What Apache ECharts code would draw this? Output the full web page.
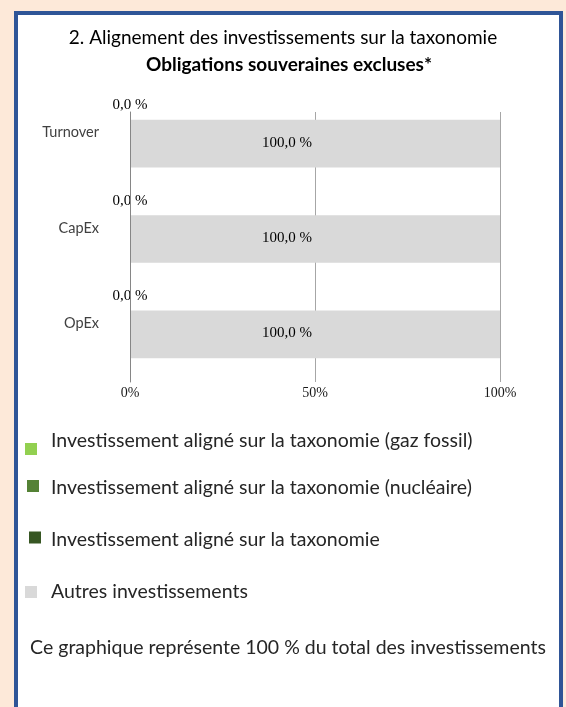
<!DOCTYPE html>
<html>
<head>
<meta charset="utf-8">
<script src="https://cdn.jsdelivr.net/npm/echarts@6/dist/echarts.min.js"></script>
<style>
  html, body { margin: 0; padding: 0; background: #FDE9D9; }
  .frame {
    position: absolute; left: 14px; top: 11px; width: 541px; height: 720px;
    border: 4px solid #2F5597; background: #fff;
  }
  #chart { position: absolute; left: 0; top: 0; width: 566px; height: 707px; }
</style>
</head>
<body>
<div class="frame"></div>
<div id="chart"></div>
<script>
const categories = ['Turnover', 'CapEx', 'OpEx'];
const gazFossil = [0, 0, 0];
const nucleaire = [0, 0, 0];
const aligne = [0, 0, 0];
const autres = [100, 100, 100];
const xTicks = [0, 50, 100];

const seriesNames = [
  'Investissement aligné sur la taxonomie (gaz fossil)',
  'Investissement aligné sur la taxonomie (nucléaire)',
  'Investissement aligné sur la taxonomie',
  'Autres investissements'
];
const colors = ['#92D050', '#548235', '#375623', '#D9D9D9'];

const sans = 'Lato, "Open Sans", sans-serif';
const serif = '"Liberation Serif", "DejaVu Serif", serif';

const pct = (v) => v.toFixed(1).replace('.', ',') + ' %';

const chart = echarts.init(document.getElementById('chart'));

// one legend per row so each square sits where it does in the picture
const legendRow = (name, left, top, pad) => ({
  data: [name],
  left: left,
  top: top,
  padding: 0,
  orient: 'vertical',
  icon: 'rect',
  itemWidth: 12,
  itemHeight: 12,
  selectedMode: false,
  formatter: '{t|{name}}',
  textStyle: {
    rich: {
      t: { fontFamily: sans, fontSize: 19.5, lineHeight: 20, color: '#262626', padding: pad }
    }
  }
});

const option = {
  animation: false,
  title: [
    {
      text: '2. Alignement des investissements sur la taxonomie',
      left: 283, top: 28, textAlign: 'center', padding: 0,
      textStyle: { fontFamily: sans, fontSize: 19, fontWeight: 'normal', color: '#000' }
    },
    {
      text: 'Obligations souveraines excluses*',
      left: 289, top: 55, textAlign: 'center', padding: 0,
      textStyle: { fontFamily: sans, fontSize: 19, fontWeight: 'bold', color: '#000' }
    },
    {
      text: 'Ce graphique représente 100 % du total des investissements',
      left: 288, top: 638, textAlign: 'center', padding: 0,
      textStyle: { fontFamily: sans, fontSize: 19.5, fontWeight: 'normal', color: '#262626' }
    }
  ],
  legend: [
    legendRow(seriesNames[0], 25, 431, [0, 0, 16, 9]),
    legendRow(seriesNames[1], 27, 474, [4, 0, 0, 7]),
    legendRow(seriesNames[2], 29, 525, [5, 0, 0, 5]),
    legendRow(seriesNames[3], 25, 582, [0, 0, 0, 9])
  ],
  grid: [
    { left: 130, right: 66, top: 96, bottom: 325 },
    { left: 130, right: 66, top: 112, bottom: 325 }
  ],
  xAxis: [
    { type: 'value', gridIndex: 0, min: 0, max: 100, show: false },
    {
      type: 'value', gridIndex: 1, min: xTicks[0], max: xTicks[xTicks.length - 1], interval: 50,
      axisLine: { show: false },
      axisTick: { show: false },
      splitLine: { show: true, lineStyle: { color: '#A6A6A6', width: 1 } },
      axisLabel: {
        formatter: '{value}%', margin: 4,
        fontFamily: serif, fontSize: 14, color: '#1a1a1a'
      }
    }
  ],
  yAxis: [
    {
      type: 'category', gridIndex: 0, data: categories, inverse: true,
      axisLine: { show: false },
      axisTick: { show: false },
      axisLabel: {
        margin: 31, fontFamily: sans, fontSize: 14.5, color: '#404040',
        verticalAlign: 'bottom', lineHeight: 22
      }
    },
    {
      // only its line: the darker 0% rule, starting below the labels
      type: 'value', gridIndex: 1, z: 5,
      axisLine: { show: true, lineStyle: { color: '#868686', width: 1 } },
      axisTick: { show: false },
      axisLabel: { show: false },
      splitLine: { show: false }
    }
  ],
  series: [
    {
      name: seriesNames[0], type: 'bar', stack: 'total', data: gazFossil,
      barCategoryGap: '50%', itemStyle: { color: colors[0] }
    },
    {
      name: seriesNames[1], type: 'bar', stack: 'total', data: nucleaire,
      barCategoryGap: '50%', itemStyle: { color: colors[1] }
    },
    {
      name: seriesNames[2], type: 'bar', stack: 'total', data: aligne,
      barCategoryGap: '50%', itemStyle: { color: colors[2] },
      label: {
        show: true, position: 'top', distance: 7,
        fontFamily: serif, fontSize: 15, color: '#000',
        formatter: (p) => pct(p.value)
      }
    },
    {
      name: seriesNames[3], type: 'bar', stack: 'total', data: autres,
      barCategoryGap: '50%', itemStyle: { color: colors[3] },
      label: {
        show: true, position: 'inside', offset: [-28, -1],
        fontFamily: serif, fontSize: 15, color: '#000',
        formatter: (p) => pct(p.value)
      }
    }
  ]
};

chart.setOption(option);
</script>
</body>
</html>
